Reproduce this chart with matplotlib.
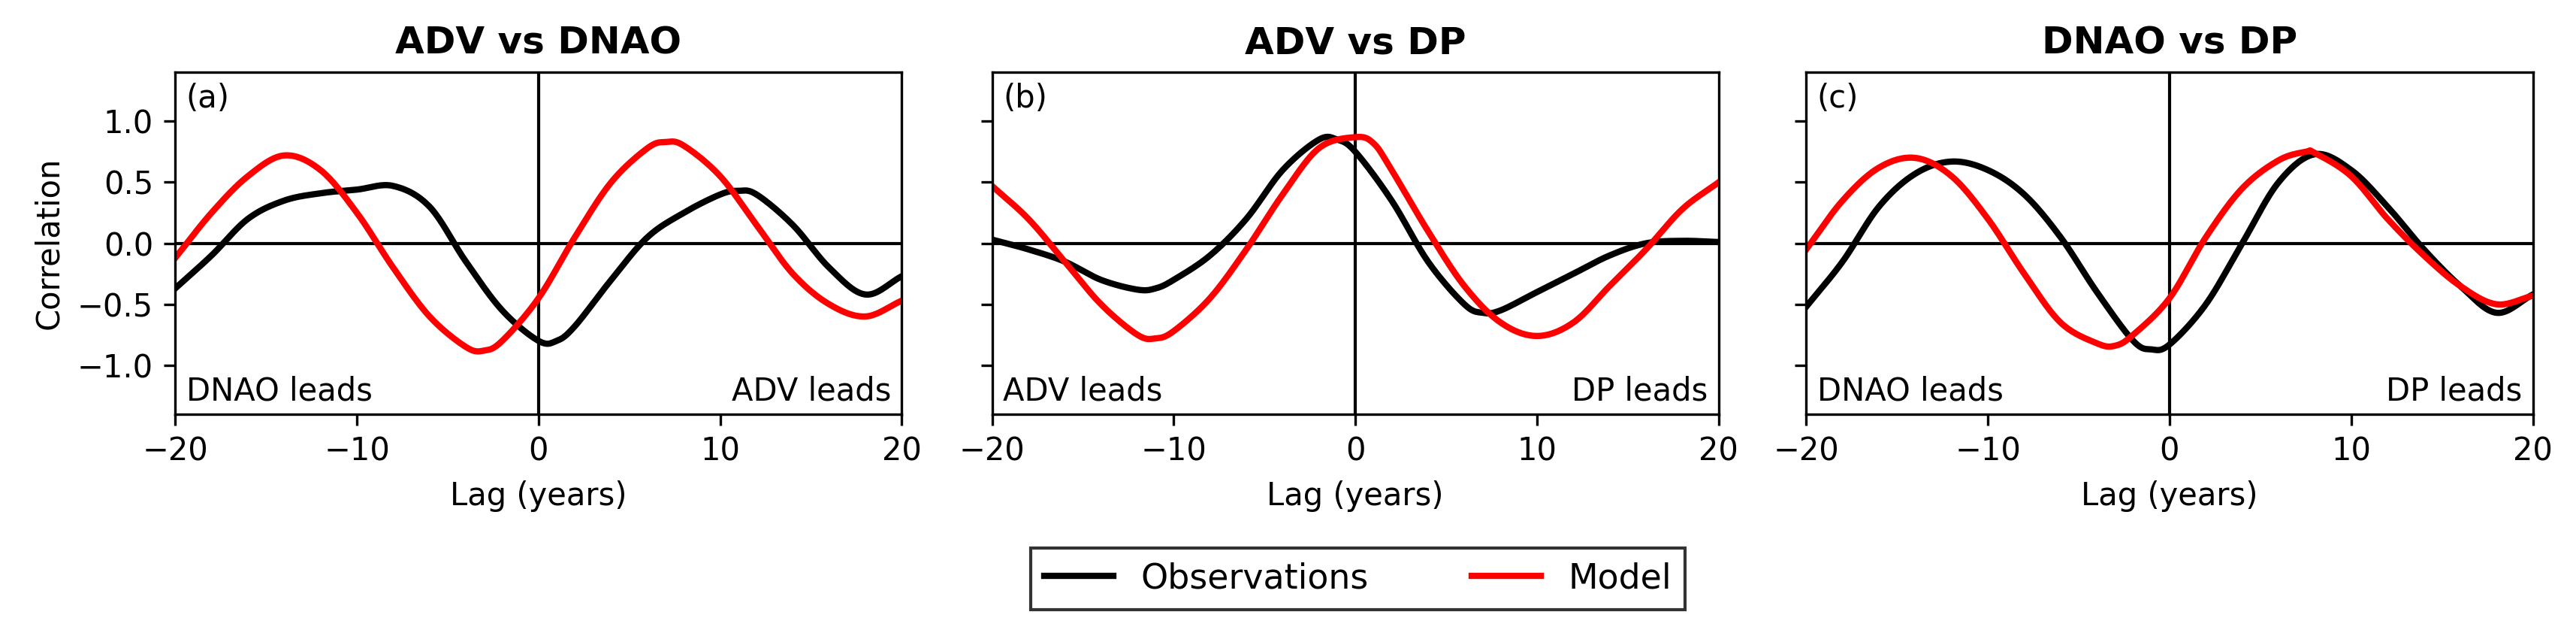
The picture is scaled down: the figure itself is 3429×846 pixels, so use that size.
import numpy as np
import matplotlib
matplotlib.use("Agg")
import matplotlib.pyplot as plt

titles = ["ADV vs DNAO", "ADV vs DP", "DNAO vs DP"]
labels = ["(a)", "(b)", "(c)"]
lead_left = ["DNAO leads", "ADV leads", "DNAO leads"]
lead_right = ["ADV leads", "DP leads", "DP leads"]

obs_a_x = [-20,-18,-16,-14,-12,-10,-8,-6,-4,-2,0,1,2,4,6,8,10,11,12,14,16,18,20]
obs_a_y = [-0.37,-0.1,0.2,0.35,0.41,0.44,0.47,0.3,-0.15,-0.55,-0.8,-0.8,-0.68,-0.3,0.05,0.25,0.4,0.43,0.4,0.15,-0.2,-0.42,-0.27]
mod_a_x = [-20,-18,-16,-14,-12,-10,-8,-6,-4,-3,-2,0,2,4,6,7,8,10,12,14,16,18,20]
mod_a_y = [-0.12,0.25,0.55,0.72,0.6,0.25,-0.2,-0.6,-0.85,-0.88,-0.8,-0.45,0.05,0.5,0.78,0.83,0.8,0.55,0.15,-0.25,-0.5,-0.6,-0.47]

obs_b_x = [-20,-18,-16,-14,-12,-11,-10,-8,-6,-4,-2,-1,0,2,4,6,7,8,10,12,14,16,18,20]
obs_b_y = [0.03,-0.05,-0.15,-0.3,-0.38,-0.37,-0.3,-0.1,0.2,0.6,0.85,0.85,0.75,0.35,-0.15,-0.5,-0.57,-0.55,-0.4,-0.25,-0.1,0.0,0.02,0.01]
mod_b_x = [-20,-18,-16,-14,-12,-11,-10,-8,-6,-4,-2,0,1,2,4,6,8,10,12,14,16,18,20]
mod_b_y = [0.47,0.2,-0.15,-0.5,-0.75,-0.78,-0.72,-0.45,-0.05,0.4,0.78,0.87,0.82,0.6,0.1,-0.35,-0.65,-0.76,-0.65,-0.35,-0.05,0.28,0.5]

obs_c_x = [-20,-18,-16,-14,-12,-10,-8,-6,-4,-2,-1,0,2,4,6,8,10,12,14,16,18,20]
obs_c_y = [-0.52,-0.15,0.3,0.57,0.67,0.6,0.4,0.05,-0.4,-0.8,-0.87,-0.83,-0.5,0.0,0.5,0.73,0.6,0.3,-0.05,-0.35,-0.57,-0.42]
mod_c_x = [-20,-18,-16,-14,-12,-10,-8,-6,-4,-3,-2,0,2,4,6,7.5,8,10,12,14,16,18,20]
mod_c_y = [-0.05,0.35,0.62,0.7,0.55,0.2,-0.25,-0.65,-0.82,-0.84,-0.75,-0.45,0.05,0.45,0.68,0.75,0.74,0.55,0.2,-0.1,-0.35,-0.5,-0.43]

obs = [(obs_a_x, obs_a_y), (obs_b_x, obs_b_y), (obs_c_x, obs_c_y)]
mod = [(mod_a_x, mod_a_y), (mod_b_x, mod_b_y), (mod_c_x, mod_c_y)]

def smooth(x, y, n=20):
    # Catmull-Rom rendering of the read points
    x = np.asarray(x, float); y = np.asarray(y, float)
    P = np.column_stack([x, y])
    P = np.vstack([2*P[0]-P[1], P, 2*P[-1]-P[-2]])
    out = []
    t = np.linspace(0, 1, n, endpoint=False)[:, None]
    for i in range(1, len(P)-2):
        p0, p1, p2, p3 = P[i-1], P[i], P[i+1], P[i+2]
        seg = 0.5*((2*p1) + (-p0+p2)*t + (2*p0-5*p1+4*p2-p3)*t**2 + (-p0+3*p1-3*p2+p3)*t**3)
        out.append(seg)
    out.append(P[-2][None, :])
    S = np.vstack(out)
    return S[:, 0], S[:, 1]

fig = plt.figure(figsize=(11.433, 2.82), dpi=300)
lefts = [0.068, 0.385, 0.701]
w = 0.282
for i in range(3):
    ax = fig.add_axes([lefts[i], 0.349, w, 0.537])
    ax.axhline(0, color="black", lw=1)
    ax.axvline(0, color="black", lw=1)
    xs, ys = smooth(*obs[i])
    l1, = ax.plot(xs, ys, color="black", lw=2, label="Observations")
    xs, ys = smooth(*mod[i])
    l2, = ax.plot(xs, ys, color="red", lw=2, label="Model")
    ax.set_xlim(-20, 20)
    ax.set_ylim(-1.4, 1.4)
    ax.set_xticks([-20, -10, 0, 10, 20])
    ax.set_yticks([-1.0, -0.5, 0.0, 0.5, 1.0])
    ax.set_title(titles[i], fontweight="bold", fontsize=12)
    ax.set_xlabel("Lag (years)")
    if i == 0:
        ax.set_ylabel("Correlation")
    else:
        ax.set_yticklabels([])
    ax.text(0.015, 0.97, labels[i], transform=ax.transAxes, va="top", ha="left")
    ax.text(0.015, 0.02, lead_left[i], transform=ax.transAxes, va="bottom", ha="left")
    ax.text(0.985, 0.02, lead_right[i], transform=ax.transAxes, va="bottom", ha="right")

fig.legend([l1, l2], ["Observations", "Model"], loc="center", bbox_to_anchor=(0.527, 0.09),
           ncol=2, fancybox=False, edgecolor="black", fontsize=11, columnspacing=3)
fig.savefig("out.png", dpi=300)
